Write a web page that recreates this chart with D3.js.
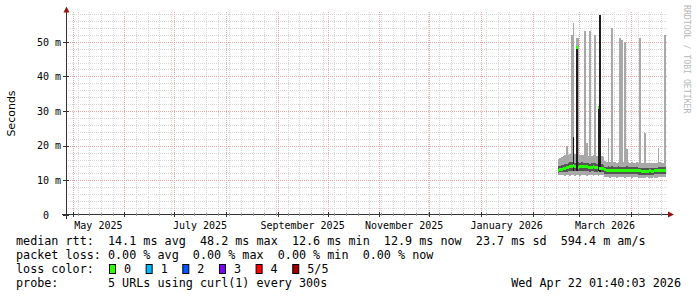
<!DOCTYPE html>
<html>
<head>
<meta charset="utf-8">
<script src="https://cdn.jsdelivr.net/npm/d3@7"></script>
<style>
  html, body { margin: 0; padding: 0; background: #fff; }
  svg { display: block; }
  text { font-family: "DejaVu Sans Mono", monospace; }
</style>
</head>
<body>
<div id="chart"></div>
<script>
(function() {
  "use strict";

  // time window: last 360 days up to the graph time
  const rangeStart = Date.UTC(2025, 3, 27, 1, 40);
  const rangeEnd = Date.UTC(2026, 3, 22, 1, 40);
  const firstDay = Date.UTC(2026, 1, 16); // first day with data, one value per day

  // median rtt (ms), per day
  const medianMs = [
    12.9, 13.0, 13.1, 13.3, 13.5, 13.6, 13.8, 14.0, 14.1, 14.2, 14.0, 48.2, 13.8, 13.9,
    14.1, 14.0, 13.9, 13.9, 13.8, 13.7, 13.8, 13.9, 13.7, 13.6, 31.0, 13.5, 13.4, 13.4,
    13.0, 12.9, 12.9, 12.9, 12.8, 12.9, 12.9, 12.8, 12.9, 12.9, 12.8, 12.8, 12.9, 12.9,
    12.8, 12.8, 12.9, 12.8, 12.8, 12.8, 12.7, 12.7, 12.6, 12.6, 12.6, 12.6, 12.6, 12.7,
    12.6, 12.6, 12.7, 12.7, 12.8, 12.8, 12.9, 12.8, 12.9
  ];
  // smoke: fastest / slowest of the 5 probes (ms)
  const minMs = [
    11.6, 11.5, 11.4, 11.5, 11.3, 11.4, 11.5, 11.3, 11.4, 11.4, 11.3, 11.5, 11.4, 11.3,
    11.4, 11.5, 11.4, 11.3, 11.4, 11.4, 11.5, 11.3, 11.4, 11.4, 11.3, 11.4, 11.5, 11.4,
    11.0, 10.9, 11.0, 10.8, 10.9, 11.0, 10.9, 10.8, 10.9, 11.0, 10.9, 10.9, 10.8, 10.9,
    11.0, 10.9, 10.8, 10.9, 10.9, 11.0, 10.8, 10.7, 10.8, 10.7, 10.8, 10.9, 10.8, 10.7,
    10.8, 10.9, 10.8, 10.8, 10.9, 10.9, 11.0, 10.9, 10.9
  ];
  const maxMs = [
    16.2, 16.5, 16.8, 17.0, 17.2, 20.0, 17.4, 17.6, 52.0, 55.3, 17.5, 51.0, 51.0, 17.3,
    17.2, 17.4, 53.0, 20.7, 17.1, 53.0, 17.0, 17.2, 52.0, 17.0, 31.5, 57.7, 16.9, 16.6,
    15.6, 15.3, 22.2, 15.4, 54.0, 15.2, 15.3, 15.1, 15.2, 51.0, 50.5, 15.2, 50.0, 19.0,
    15.3, 15.1, 15.2, 15.0, 15.1, 15.2, 15.0, 51.0, 15.1, 15.0, 23.7, 15.1, 15.0, 14.9,
    15.0, 15.1, 15.0, 15.1, 19.3, 15.2, 15.0, 15.1, 52.0
  ];
  // smoke: 2nd and 4th probe (ms)
  const innerLoMs = [
    12.2, 12.3, 12.3, 12.4, 12.5, 12.5, 12.6, 12.7, 12.8, 12.8, 12.7, 12.6, 12.6, 12.7,
    12.8, 12.7, 12.7, 12.6, 12.6, 12.5, 12.6, 12.7, 12.5, 12.5, 12.6, 12.4, 12.3, 12.3,
    11.9, 11.8, 11.9, 11.8, 11.8, 11.9, 11.8, 11.8, 11.9, 11.8, 11.8, 11.8, 11.9, 11.8,
    11.8, 11.7, 11.8, 11.8, 11.7, 11.7, 11.6, 11.6, 11.5, 11.6, 11.6, 11.5, 11.6, 11.6,
    11.5, 11.6, 11.7, 11.7, 11.7, 11.8, 11.8, 11.8, 11.8
  ];
  const innerHiMs = [
    14.0, 14.1, 14.3, 14.5, 14.7, 14.8, 15.0, 15.2, 15.3, 22.5, 15.1, 48.0, 15.2, 15.0,
    15.2, 15.1, 15.0, 15.0, 14.9, 14.8, 14.9, 15.0, 14.9, 14.8, 31.0, 57.7, 14.6, 14.5,
    13.9, 13.9, 14.0, 13.9, 14.0, 13.9, 13.9, 13.8, 14.0, 13.9, 13.9, 13.8, 13.9, 14.0,
    13.9, 13.8, 13.9, 13.9, 13.8, 13.8, 13.7, 13.6, 13.6, 13.5, 13.6, 13.6, 13.5, 13.6,
    13.6, 13.7, 13.6, 13.7, 13.8, 13.8, 13.9, 13.8, 13.9
  ];

  const yLabelTicks = [0, 10, 20, 30, 40, 50];
  const labelMonthNumbers = [4, 6, 8, 10, 0, 2]; // May, Jul, Sep, Nov, Jan, Mar
  const lossLabels = ["0", "1", "2", "3", "4", "5/5"];
  const lossColors = ["#26ff00", "#00b8ff", "#0059ff", "#7e00ff", "#ff0000", "#a10000"];
  const legendLines = [
    "median rtt:  14.1 ms avg  48.2 ms max  12.6 ms min  12.9 ms now  23.7 ms sd  594.4 m am/s",
    "packet loss: 0.00 % avg  0.00 % max  0.00 % min  0.00 % now",
    "loss color:",
    "probe:       5 URLs using curl(1) every 300s"
  ];
  const stampText = "Wed Apr 22 01:40:03 2026";

  const width = 697, height = 297;
  const plot = { left: 66, right: 666, top: 11, bottom: 215 };

  const x = d3.scaleUtc().domain([rangeStart, rangeEnd]).range([plot.left, plot.right]);
  const y = d3.scaleLinear().domain([0, 58.86]).range([plot.bottom, plot.top]);
  const px = v => Math.round(v) + 0.5;
  const keepSpaces = s => s.replace(/ /g, "\u00a0");

  const days = medianMs.map((m, i) => ({
    t0: d3.utcDay.offset(firstDay, i),
    t1: d3.utcDay.offset(firstDay, i + 1),
    median: m, lo: minMs[i], hi: maxMs[i], lo2: innerLoMs[i], hi2: innerHiMs[i]
  }));
  const stepped = days.concat([{ ...days[days.length - 1], t0: days[days.length - 1].t1 }]);

  const svg = d3.select("#chart").append("svg")
      .attr("width", width)
      .attr("height", height)
      .attr("viewBox", [0, 0, width, height]);

  svg.append("rect").attr("width", width).attr("height", height).attr("fill", "#fff");

  // grid
  const grid = svg.append("g").attr("stroke-dasharray", "1,1").attr("stroke-width", 1);
  const minorY = d3.range(2, 59, 2).filter(v => v % 10 !== 0);
  grid.append("g").attr("stroke", "#d6d6d6")
    .selectAll("line").data(minorY).join("line")
      .attr("x1", plot.left).attr("x2", plot.right + 2)
      .attr("y1", d => px(y(d))).attr("y2", d => px(y(d)));
  const weeks = d3.utcWeek.range(rangeStart, rangeEnd);
  grid.append("g").attr("stroke", "#d6d6d6")
    .selectAll("line").data(weeks).join("line")
      .attr("x1", d => px(x(d))).attr("x2", d => px(x(d)))
      .attr("y1", plot.bottom).attr("y2", plot.top);
  const months = d3.utcMonth.range(rangeStart, rangeEnd);
  grid.append("g").attr("stroke", "#eaaaaa")
    .selectAll("line").data(months).join("line")
      .attr("x1", d => px(x(d))).attr("x2", d => px(x(d)))
      .attr("y1", plot.bottom).attr("y2", plot.top);
  grid.append("g").attr("stroke", "#eaaaaa")
    .selectAll("line").data(yLabelTicks.slice(1)).join("line")
      .attr("x1", plot.left).attr("x2", plot.right + 2)
      .attr("y1", d => px(y(d))).attr("y2", d => px(y(d)));

  // smoke
  const smoke = svg.append("g").attr("shape-rendering", "crispEdges");
  smoke.append("path")
      .datum(stepped)
      .attr("fill", "#a8a8a8")
      .attr("d", d3.area().curve(d3.curveStepAfter)
        .x(d => x(d.t0)).y0(d => y(d.lo)).y1(d => y(d.hi)));
  smoke.append("path")
      .datum(stepped)
      .attr("fill", "#555555")
      .attr("d", d3.area().curve(d3.curveStepAfter)
        .x(d => x(d.t0)).y0(d => y(d.lo2)).y1(d => y(d.hi2)));
  smoke.append("g")
    .selectAll("rect").data(days.filter(d => d.hi2 - d.lo2 > 6)).join("rect")
      .attr("fill", "#1c1c1c")
      .attr("x", d => x(d.t0))
      .attr("width", d => x(d.t1) - x(d.t0))
      .attr("y", d => y(d.hi2))
      .attr("height", d => y(d.lo2) - y(d.hi2));

  // median, coloured by loss (all 0 here)
  svg.append("g").attr("shape-rendering", "crispEdges")
    .selectAll("rect").data(days).join("rect")
      .attr("fill", lossColors[0])
      .attr("x", d => x(d.t0))
      .attr("width", d => x(d.t1) - x(d.t0))
      .attr("y", d => y(d.median) - 1.5)
      .attr("height", 3);

  // axes
  const axis = svg.append("g").attr("stroke", "#333").attr("shape-rendering", "crispEdges");
  axis.append("line").attr("x1", 62).attr("x2", 668).attr("y1", px(plot.bottom) - 1).attr("y2", px(plot.bottom) - 1);
  axis.append("line").attr("x1", px(plot.left)).attr("x2", px(plot.left)).attr("y1", 219).attr("y2", 10);
  axis.append("g").attr("stroke", "#999").selectAll("line").data(weeks).join("line")
      .attr("x1", d => px(x(d))).attr("x2", d => px(x(d)))
      .attr("y1", plot.bottom - 2).attr("y2", plot.bottom + 1);
  axis.append("g").selectAll("line").data(months).join("line")
      .attr("x1", d => px(x(d))).attr("x2", d => px(x(d)))
      .attr("y1", plot.bottom - 3).attr("y2", plot.bottom + 2);
  axis.append("g").selectAll("line").data(yLabelTicks).join("line")
      .attr("x1", plot.left - 3).attr("x2", plot.left + 3)
      .attr("y1", d => px(y(d))).attr("y2", d => px(y(d)));

  const arrowColor = "#961414";
  svg.append("path").attr("fill", arrowColor)
      .attr("d", "M668,211.5L674,214.5L668,217.5Z");
  svg.append("path").attr("fill", arrowColor)
      .attr("d", "M63.5,12.5L66.5,6.5L69.5,12.5Z");

  // y tick labels
  svg.append("g").attr("font-size", "10px").attr("text-anchor", "end").attr("fill", "#000")
    .selectAll("text").data(yLabelTicks).join("text")
      .attr("x", 61)
      .attr("dx", d => d === 0 ? -12 : 0)
      .attr("y", d => y(d) + 3.8)
      .text(d => d === 0 ? "0" : keepSpaces(d + " m"));

  // x labels, centred in every second month
  svg.append("g").attr("font-size", "10px").attr("text-anchor", "middle").attr("fill", "#000")
    .selectAll("text").data(months.filter(d => labelMonthNumbers.includes(d.getUTCMonth()))).join("text")
      .attr("x", d => (x(d) + x(d3.utcMonth.offset(d, 1))) / 2)
      .attr("y", 228.5)
      .text(d => keepSpaces(d3.utcFormat("%B %Y")(d)));

  // y title
  svg.append("text")
      .attr("transform", "translate(15,113.5) rotate(-90)")
      .attr("text-anchor", "middle")
      .style("font-family", "'DejaVu Sans', sans-serif")
      .attr("font-size", "11px")
      .text("Seconds");

  // watermark
  svg.append("text")
      .attr("transform", "translate(683.5,5) rotate(90)")
      .attr("font-size", "8.2px")
      .attr("fill", "#b8b8b8")
      .text(keepSpaces("RRDTOOL / TOBI OETIKER"));

  // legend
  const legend = svg.append("g").attr("font-size", "11.75px").attr("fill", "#000");
  legend.selectAll("text.line").data(legendLines).join("text")
      .attr("class", "line")
      .attr("x", 16)
      .attr("y", (d, i) => 244.5 + i * 14)
      .text(keepSpaces);

  const swatch = legend.selectAll("g.swatch").data(lossLabels).join("g")
      .attr("class", "swatch")
      .attr("transform", (d, i) => `translate(${109.5 + i * 36.65},0)`);
  swatch.append("rect")
      .attr("y", 264.5).attr("width", 6).attr("height", 9)
      .attr("fill", (d, i) => lossColors[i])
      .attr("stroke", "#000");
  swatch.append("text")
      .attr("x", 14.5).attr("y", 272.5)
      .text(d => d);

  legend.append("text")
      .attr("x", 681).attr("y", 286.5)
      .attr("text-anchor", "end")
      .text(keepSpaces(stampText));
})();
</script>
</body>
</html>
